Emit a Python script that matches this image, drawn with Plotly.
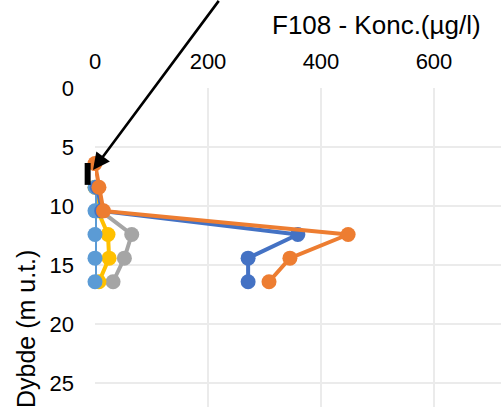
import plotly.graph_objects as go

# Depths (m u.t.)
depths = [6.4, 8.4, 10.4, 12.4, 14.4, 16.4]

# Concentrations (µg/l) per series; None = no sample
s_darkblue = [None, 4, 12, 359, 271, 271]
s_orange = [0, 7, 15, 448, 345, 308]
s_gray = [None, 3, 10, 65, 52, 32]
s_yellow = [None, 0, 5, 23, 25, 7]
s_lightblue = [None, 0, 0, 0, 0, 0]

# Screen (filter) interval marker
screen_x = -13
screen_depth = [6.35, 8.2]

# Arrow tip and tail (data units)
arrow_tip = (-3.5, 6.95)
arrow_tail = (221, -7.5)

x_ticks = [0, 200, 400, 600]
y_ticks = [0, 5, 10, 15, 20, 25]
X_MAX = 718.6
Y_MAX = 27.0

FONT = "Liberation Sans, Arial, sans-serif"

fig = go.Figure()

series = [
    (s_gray, "#A5A5A5"),
    (s_yellow, "#FFC000"),
    (s_lightblue, "#5B9BD5"),
    (s_darkblue, "#4472C4"),
    (s_orange, "#ED7D31"),
]
for vals, col in series:
    fig.add_trace(go.Scatter(
        x=vals, y=depths, mode="lines+markers",
        line=dict(color=col, width=4),
        marker=dict(color=col, size=15),
        connectgaps=False, showlegend=False, cliponaxis=False,
        hoverinfo="skip",
    ))

fig.add_shape(
    type="line", xref="paper", yref="y",
    x0=screen_x / X_MAX, x1=screen_x / X_MAX,
    y0=screen_depth[0], y1=screen_depth[1],
    line=dict(color="black", width=6), layer="above",
)

fig.add_annotation(
    x=arrow_tip[0] / X_MAX, y=1 - arrow_tip[1] / Y_MAX,
    xref="x domain", yref="y domain",
    ax=arrow_tail[0] / X_MAX, ay=1 - arrow_tail[1] / Y_MAX,
    axref="x domain", ayref="y domain",
    showarrow=True, arrowhead=2, arrowsize=1.3, arrowwidth=2.6,
    arrowcolor="black", text="",
)

fig.add_annotation(
    text="Dybde (m u.t.)", xref="paper", yref="paper",
    x=(26 - 95) / 406, y=1 - (329 - 88) / 319,
    textangle=-90, showarrow=False,
    font=dict(family=FONT, size=25, color="black"),
    xanchor="center", yanchor="middle",
)

fig.add_annotation(
    text="F108 - Konc.(µg/l)", xref="paper", yref="paper",
    x=(376 - 95) / 406, y=1 + (88 - 25) / 319,
    showarrow=False,
    font=dict(family=FONT, size=26, color="black"),
    xanchor="center", yanchor="middle",
)

fig.update_layout(
    width=501, height=407,
    margin=dict(l=95, r=0, t=88, b=0, autoexpand=False),
    paper_bgcolor="white", plot_bgcolor="white",
    hovermode=False,
    xaxis=dict(
        side="top", range=[0, X_MAX], tickvals=x_ticks,
        showgrid=True, gridcolor="#EBEBEB", gridwidth=1.5,
        zeroline=False, showline=False, automargin=False,
        tickfont=dict(family=FONT, size=22, color="black"),
        ticks="", ticklabelstandoff=14,
    ),
    yaxis=dict(
        range=[Y_MAX, 0], tickvals=y_ticks,
        showgrid=True, gridcolor="#EBEBEB", gridwidth=1.5,
        zeroline=False, showline=False, automargin=False,
        tickfont=dict(family=FONT, size=22, color="black"),
        ticks="", ticklabelstandoff=20,
    ),
)

fig.write_html(
    "out.html",
    config={"displayModeBar": False},
    post_script="document.body.style.margin='0px';document.body.style.overflow='hidden';",
)
